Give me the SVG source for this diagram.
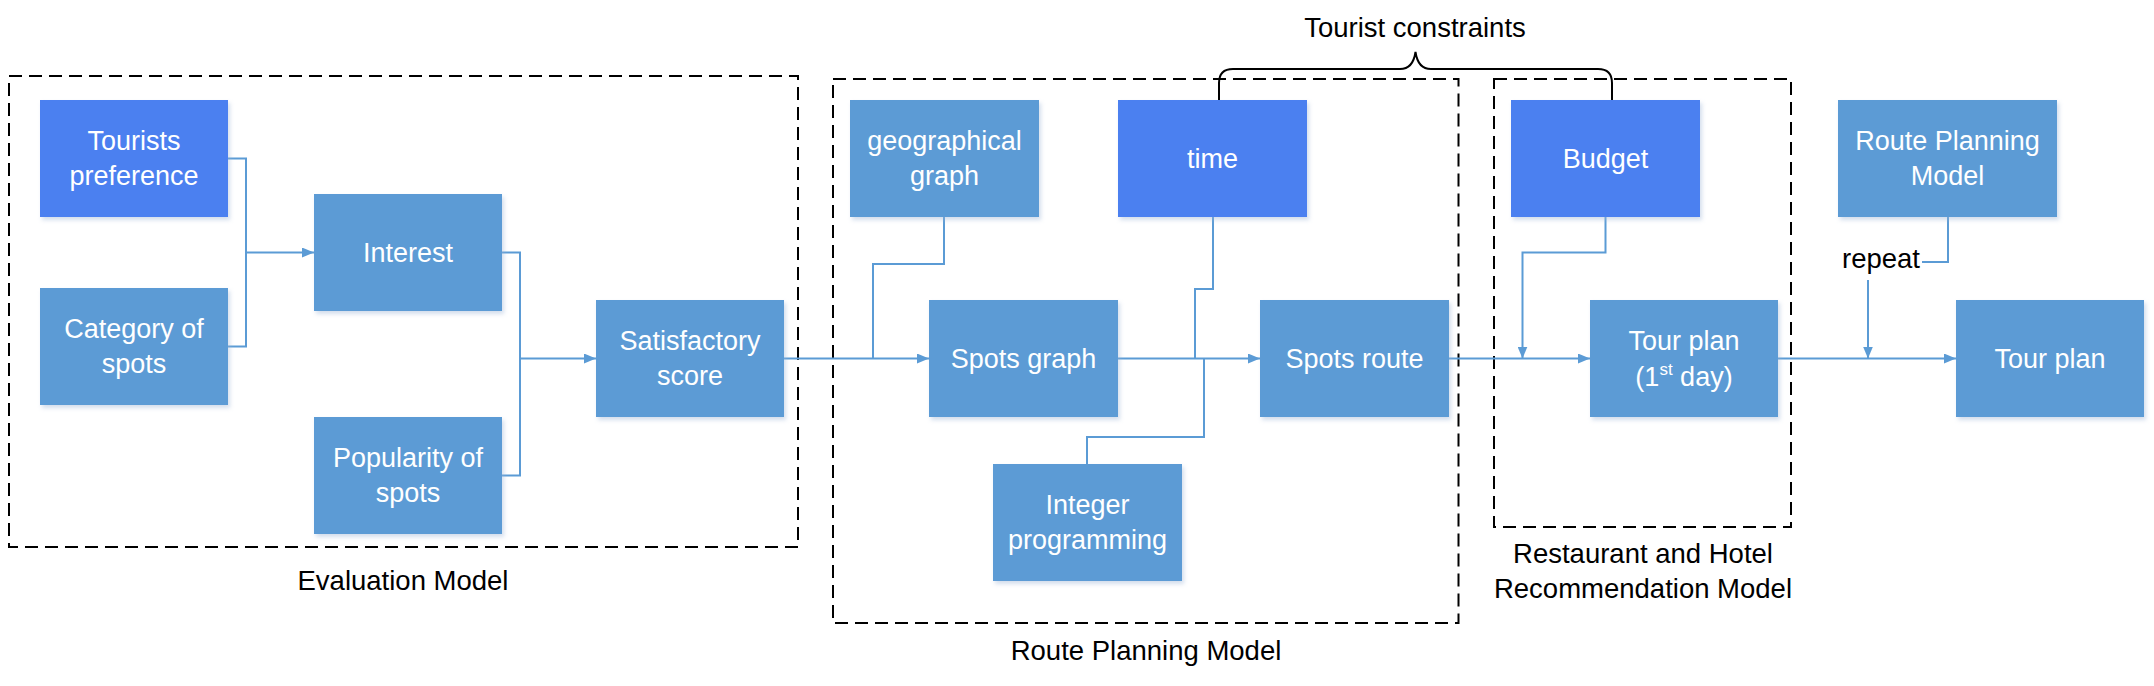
<svg xmlns="http://www.w3.org/2000/svg" width="2154" height="686" viewBox="0 0 2154 686">
<defs>
<style>
.box{fill:#5B9BD5;filter:url(#sh)}
.hi{fill:#4C80F0;filter:url(#sh)}
.nt{font-family:"Liberation Sans",Arial,sans-serif;font-size:27px;fill:#fff;text-anchor:middle}
.lb{font-family:"Liberation Sans",Arial,sans-serif;font-size:27.5px;fill:#000;text-anchor:middle}
.dash{fill:none;stroke:#000;stroke-width:2;stroke-dasharray:13 7}
.cn{fill:none;stroke:#5B9BD5;stroke-width:2}
.ar{fill:none;stroke:#5B9BD5;stroke-width:2;marker-end:url(#ah)}
</style>
<filter id="sh" x="-10%" y="-10%" width="125%" height="130%">
<feDropShadow dx="2" dy="3" stdDeviation="2" flood-color="#9DB5D6" flood-opacity="0.45"/>
</filter>
<marker id="ah" markerWidth="12" markerHeight="10" refX="12" refY="5" orient="auto" markerUnits="userSpaceOnUse">
<path d="M0,0 L12,5 L0,10 Z" fill="#5B9BD5"/>
</marker>
</defs>
<rect width="2154" height="686" fill="#fff"/>

<g id="groups">
<rect class="dash" x="9" y="76" width="789" height="471"/>
<rect class="dash" x="833" y="79" width="625.5" height="544"/>
<rect class="dash" x="1494" y="79" width="297" height="448"/>
<text class="lb" x="403" y="590">Evaluation Model</text>
<text class="lb" x="1146" y="660">Route Planning Model</text>
<text class="lb" x="1643" y="563">Restaurant and Hotel</text>
<text class="lb" x="1643" y="598">Recommendation Model</text>
</g>

<g id="brace">
<path d="M1219,101 V83 Q1219,69 1233,69 H1400 Q1413,69 1415.5,52 Q1418,69 1431,69 H1598 Q1612,69 1612,83 V101" fill="none" stroke="#000" stroke-width="2"/>
<text class="lb" x="1415" y="37">Tourist constraints</text>
</g>

<g id="connectors">
<path class="cn" d="M228,158.5 H246 V346.5 H228"/>
<path class="ar" d="M246,252.5 H314"/>
<path class="cn" d="M502,252.5 H520 V475.5 H502"/>
<path class="ar" d="M520,358.5 H596"/>
<path class="ar" d="M784,358.5 H929"/>
<path class="cn" d="M944,217 V264 H873 V358.5"/>
<path class="ar" d="M1118,358.5 H1260"/>
<path class="cn" d="M1213,217 V289 H1195 V358.5"/>
<path class="cn" d="M1087,464 V437 H1204 V358.5"/>
<path class="ar" d="M1449,358.5 H1590"/>
<path class="ar" d="M1605.5,217 V252.5 H1522.5 V358.5"/>
<path class="ar" d="M1777,358.5 H1956"/>
<path class="cn" d="M1948,217 V262 H1922"/>
<text x="1842" y="268" font-family="Liberation Sans, Arial, sans-serif" font-size="27.5" fill="#000">repeat</text>
<path class="ar" d="M1868,280 V358.5"/>
</g>

<g id="n-tourists-preference">
<rect class="hi" x="40" y="100" width="188" height="117"/>
<text class="nt" x="134" y="150">Tourists</text>
<text class="nt" x="134" y="185">preference</text>
</g>
<g id="n-category">
<rect class="box" x="40" y="288" width="188" height="117"/>
<text class="nt" x="134" y="338">Category of</text>
<text class="nt" x="134" y="373">spots</text>
</g>
<g id="n-interest">
<rect class="box" x="314" y="194" width="188" height="117"/>
<text class="nt" x="408" y="262">Interest</text>
</g>
<g id="n-popularity">
<rect class="box" x="314" y="417" width="188" height="117"/>
<text class="nt" x="408" y="467">Popularity of</text>
<text class="nt" x="408" y="502">spots</text>
</g>
<g id="n-satisfactory">
<rect class="box" x="596" y="300" width="188" height="117"/>
<text class="nt" x="690" y="350">Satisfactory</text>
<text class="nt" x="690" y="385">score</text>
</g>
<g id="n-geo">
<rect class="box" x="850" y="100" width="189" height="117"/>
<text class="nt" x="944.5" y="150">geographical</text>
<text class="nt" x="944.5" y="185">graph</text>
</g>
<g id="n-time">
<rect class="hi" x="1118" y="100" width="189" height="117"/>
<text class="nt" x="1212.5" y="168">time</text>
</g>
<g id="n-spots-graph">
<rect class="box" x="929" y="300" width="189" height="117"/>
<text class="nt" x="1023.5" y="368">Spots graph</text>
</g>
<g id="n-integer">
<rect class="box" x="993" y="464" width="189" height="117"/>
<text class="nt" x="1087.5" y="514">Integer</text>
<text class="nt" x="1087.5" y="549">programming</text>
</g>
<g id="n-spots-route">
<rect class="box" x="1260" y="300" width="189" height="117"/>
<text class="nt" x="1354.5" y="368">Spots route</text>
</g>
<g id="n-budget">
<rect class="hi" x="1511" y="100" width="189" height="117"/>
<text class="nt" x="1605.5" y="168">Budget</text>
</g>
<g id="n-tour-plan-1">
<rect class="box" x="1590" y="300" width="188" height="117"/>
<text class="nt" x="1684" y="350">Tour plan</text>
<text class="nt" x="1684" y="386">(1<tspan font-size="17" dy="-11">st</tspan><tspan dy="11"> day)</tspan></text>
</g>
<g id="n-route-planning-model">
<rect class="box" x="1838" y="100" width="219" height="117"/>
<text class="nt" x="1947.5" y="150">Route Planning</text>
<text class="nt" x="1947.5" y="185">Model</text>
</g>
<g id="n-tour-plan">
<rect class="box" x="1956" y="300" width="188" height="117"/>
<text class="nt" x="2050" y="368">Tour plan</text>
</g>
</svg>
